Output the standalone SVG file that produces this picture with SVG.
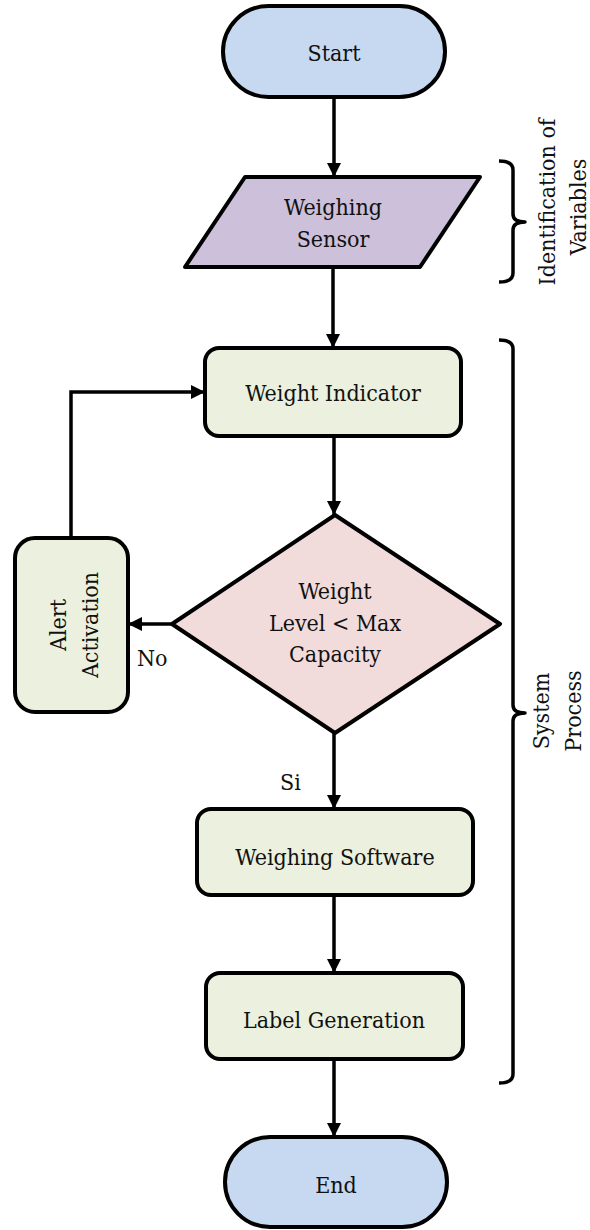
<svg xmlns="http://www.w3.org/2000/svg" width="590" height="1230" viewBox="0 0 590 1230">
<defs>
<style>
.t{font-family:'DejaVu Serif',serif;font-stretch:condensed;font-size:23px;fill:#111;text-anchor:middle}
.tl{font-family:'DejaVu Serif',serif;font-stretch:condensed;font-size:23px;fill:#111}
.n{stroke:#000;stroke-width:4;stroke-linejoin:round}
.c{fill:none;stroke:#000;stroke-width:3.5}
.b{fill:none;stroke:#000;stroke-width:3.5;stroke-linejoin:round}
</style>
<marker id="ah" markerUnits="userSpaceOnUse" markerWidth="16" markerHeight="16" refX="14" refY="7" orient="auto">
<path d="M0,0 L14,7 L0,14 Z" fill="#000"/>
</marker>
</defs>
<rect width="590" height="1230" fill="#fff"/>
<g id="connectors">
<path class="c" d="M334 97 L334 177" marker-end="url(#ah)"/>
<path class="c" d="M333 267 L333 348" marker-end="url(#ah)"/>
<path class="c" d="M334 436 L334 515" marker-end="url(#ah)"/>
<path class="c" d="M172 624 L128 624" marker-end="url(#ah)"/>
<path class="c" d="M71 538 L71 392 L205 392" marker-end="url(#ah)"/>
<path class="c" d="M334 733 L334 809" marker-end="url(#ah)"/>
<path class="c" d="M334 895 L334 973" marker-end="url(#ah)"/>
<path class="c" d="M334 1059 L334 1137" marker-end="url(#ah)"/>
<text class="tl" x="137" y="666">No</text>
<text class="tl" x="280" y="790">Si</text>
</g>
<g id="start">
<rect class="n" x="223" y="6" width="222" height="91" rx="45.5" fill="#C6D9F0"/>
<text class="t" x="334" y="61">Start</text>
</g>
<g id="sensor">
<polygon class="n" points="245,177 480,177 420,267 185,267" fill="#CCC0DA"/>
<text class="t" x="333" y="215">Weighing</text>
<text class="t" x="333" y="247">Sensor</text>
</g>
<g id="indicator">
<rect class="n" x="205" y="348" width="256" height="88" rx="14" fill="#EBF1DE"/>
<text class="t" x="333" y="401">Weight Indicator</text>
</g>
<g id="decision">
<polygon class="n" points="335,515 500,624 335,733 172,624" fill="#F2DCDB"/>
<text class="t" x="335" y="599">Weight</text>
<text class="t" x="335" y="631">Level &lt; Max</text>
<text class="t" x="335" y="662">Capacity</text>
</g>
<g id="alert">
<rect class="n" x="15" y="538" width="113" height="174" rx="20" fill="#EBF1DE"/>
<g transform="translate(71.5,625) rotate(-90)">
<text class="t" x="0" y="-5.5">Alert</text>
<text class="t" x="0" y="26">Activation</text>
</g>
</g>
<g id="software">
<rect class="n" x="197" y="809" width="276" height="86" rx="14" fill="#EBF1DE"/>
<text class="t" x="335" y="865">Weighing Software</text>
</g>
<g id="label">
<rect class="n" x="206" y="973" width="257" height="86" rx="14" fill="#EBF1DE"/>
<text class="t" x="334" y="1028">Label Generation</text>
</g>
<g id="end">
<rect class="n" x="225" y="1137" width="222" height="90" rx="45" fill="#C6D9F0"/>
<text class="t" x="336" y="1193">End</text>
</g>
<g id="brace-identification">
<path class="b" d="M499 161 Q513 161 513 170 L513 214 Q513 222 525 222 Q513 222 513 230 L513 273 Q513 282 499 282"/>
<text class="t" transform="translate(555,202) rotate(-90)">Identification of</text>
<text class="t" transform="translate(586,207) rotate(-90)">Variables</text>
</g>
<g id="brace-system">
<path class="b" d="M499 340 Q513 340 513 349 L513 705 Q513 713 525 713 Q513 713 513 721 L513 1074 Q513 1083 499 1083"/>
<text class="t" transform="translate(549,711) rotate(-90)">System</text>
<text class="t" transform="translate(581,711) rotate(-90)">Process</text>
</g>
</svg>
